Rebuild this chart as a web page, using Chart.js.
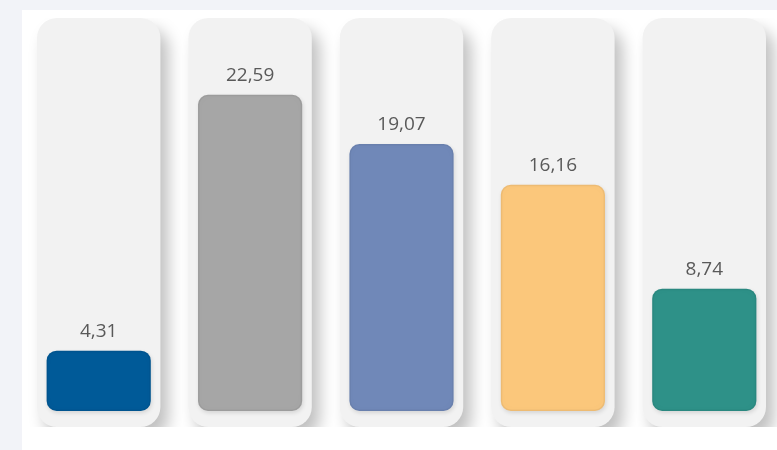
<html>
<head>
<meta charset="UTF-8">
<title>Bars</title>
<script src="https://cdn.jsdelivr.net/npm/chart.js@4.4.1/dist/chart.umd.min.js"></script>
<style>
  html, body { margin: 0; padding: 0; background: #f2f3f8; overflow: hidden; }
  #panel { position: absolute; left: 22px; top: 10px; width: 758px; height: 440px; background: #ffffff; }
</style>
</head>
<body>
<div id="panel"><canvas id="myChart"></canvas></div>
<script>
var categories = ['Kategorie 1', 'Kategorie 2', 'Kategorie 3', 'Kategorie 4', 'Kategorie 5'];
var values = [4.31, 22.59, 19.07, 16.16, 8.74];
var barColors = ['#005a98', '#a6a6a6', '#7088b8', '#fbc77b', '#2e9188'];

var yMin = -1.14, yMax = 28.07;

// dataset 0 = coloured bars (drawn last, on top), dataset 1 = grey pills
var shadowPlugin = {
  id: 'shadows',
  beforeDatasetDraw: function(chart, args) {
    var ctx = chart.ctx;
    ctx.save();
    if (args.index === 1) {
      ctx.shadowColor = 'rgba(0,0,0,0.25)';
      ctx.shadowBlur = 16;
      ctx.shadowOffsetX = 8;
      ctx.shadowOffsetY = 11;
    } else {
      ctx.shadowColor = 'rgba(0,0,0,0.12)';
      ctx.shadowBlur = 4;
      ctx.shadowOffsetX = 1;
      ctx.shadowOffsetY = 2;
    }
  },
  afterDatasetDraw: function(chart, args) {
    var ctx = chart.ctx;
    ctx.restore();
    if (args.index !== 0) return;
    // inner shadow on the coloured bars
    args.meta.data.forEach(function(bar) {
      var p = bar.getProps(['x', 'y', 'base', 'width'], true);
      var left = p.x - p.width / 2, top = p.y, h = p.base - p.y;
      ctx.save();
      ctx.beginPath();
      ctx.roundRect(left, top, p.width, h, 10);
      ctx.clip();
      ctx.shadowColor = 'rgba(0,0,0,0.35)';
      ctx.shadowBlur = 9;
      ctx.lineWidth = 3;
      ctx.strokeStyle = 'rgba(0,0,0,0.05)';
      ctx.beginPath();
      ctx.roundRect(left, top, p.width, h, 10);
      ctx.stroke();
      ctx.restore();
    });
  },
  afterDatasetsDraw: function(chart) {
    var ctx = chart.ctx;
    var meta = chart.getDatasetMeta(0);
    ctx.save();
    ctx.fillStyle = '#595959';
    ctx.font = '19px "Open Sans", "Noto Sans", sans-serif';
    ctx.textAlign = 'center';
    ctx.textBaseline = 'middle';
    meta.data.forEach(function(bar, i) {
      var txt = values[i].toFixed(2).replace('.', ',');
      ctx.fillText(txt, bar.x, bar.y - 19);
    });
    ctx.restore();
  }
};

var ctx = document.getElementById('myChart').getContext('2d');
var myChart = new Chart(ctx, {
  type: 'bar',
  data: {
    labels: categories,
    datasets: [{
      label: 'Wert',
      data: values,
      backgroundColor: barColors,
      borderRadius: 10,
      borderSkipped: false,
      barPercentage: 0.688,
      categoryPercentage: 1
    }, {
      label: 'Hintergrund',
      data: categories.map(function() { return [yMin, yMax]; }),
      backgroundColor: '#f2f2f2',
      borderRadius: 20,
      borderSkipped: false,
      barPercentage: 0.815,
      categoryPercentage: 1
    }]
  },
  options: {
    responsive: true,
    maintainAspectRatio: false,
    animation: false,
    layout: { padding: { left: 1, right: 0, top: 8, bottom: 23 } },
    plugins: { legend: { display: false }, tooltip: { enabled: false } },
    scales: {
      x: { display: false, stacked: true },
      y: { display: false, min: yMin, max: yMax }
    }
  },
  plugins: [shadowPlugin]
});
</script>
</body>
</html>
